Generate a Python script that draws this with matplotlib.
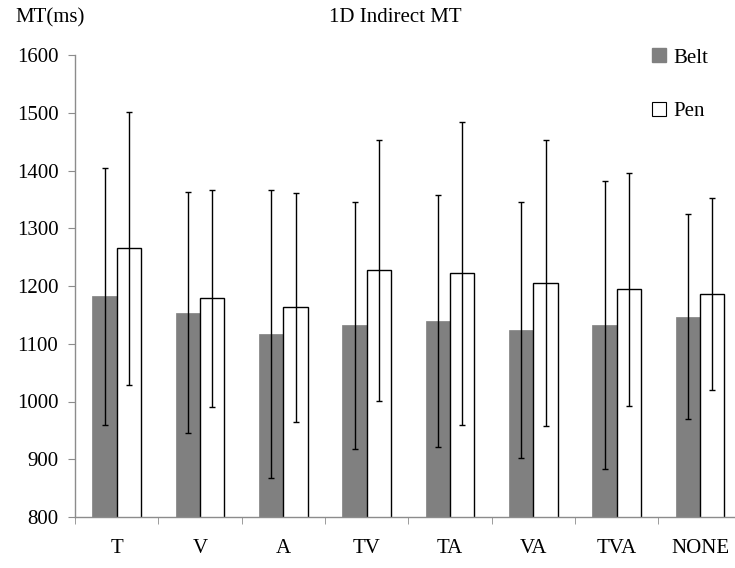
import matplotlib
matplotlib.use("Agg")
import matplotlib.pyplot as plt
import numpy as np
from matplotlib.patches import Patch

categories = ["T", "V", "A", "TV", "TA", "VA", "TVA", "NONE"]
belt_mean = [1182, 1154, 1117, 1132, 1139, 1124, 1132, 1147]
belt_err = [223, 208, 250, 214, 218, 221, 249, 178]
pen_mean = [1265, 1179, 1163, 1227, 1222, 1205, 1194, 1186]
pen_err = [236, 188, 198, 226, 262, 248, 202, 166]
yticks = [800, 900, 1000, 1100, 1200, 1300, 1400, 1500, 1600]

plt.rcParams['font.family'] = ['Liberation Serif', 'DejaVu Serif']

fig = plt.figure(figsize=(7.35, 5.68), dpi=100)
ax = fig.add_axes([75/735, 1-517/568, 1-75/735, (517-55)/568])

x = np.arange(len(categories))
w = 0.292
axis_col = '#8c8c8c'
fs = 15

ax.bar(x - w/2, belt_mean, width=w, color='#808080', edgecolor='#808080', linewidth=0.5, label='Belt', zorder=2)
ax.bar(x + w/2, pen_mean, width=w, color='white', edgecolor='black', linewidth=1.0, label='Pen', zorder=2)
ax.errorbar(x - w/2, belt_mean, yerr=belt_err, fmt='none', ecolor='black', elinewidth=1.0, capsize=2.5, capthick=1.0, zorder=3)
ax.errorbar(x + w/2, pen_mean, yerr=pen_err, fmt='none', ecolor='black', elinewidth=1.0, capsize=2.5, capthick=1.0, zorder=3)

ax.set_ylim(800, 1600)
ax.set_xlim(-0.5, 7.42)
ax.set_yticks(yticks)
ax.set_yticklabels([str(v) for v in yticks], fontsize=fs)
ax.set_xticks(x)
ax.set_xticklabels(categories, fontsize=fs)
ax.set_xticks(np.arange(-0.5, 7.5, 1.0), minor=True)
ax.tick_params(axis='x', which='major', length=0, pad=16)
ax.tick_params(axis='x', which='minor', length=5, color=axis_col, direction='out')
ax.tick_params(axis='y', length=5, color=axis_col, pad=7)

for s in ['top', 'right']:
    ax.spines[s].set_visible(False)
for s in ['left', 'bottom']:
    ax.spines[s].set_color(axis_col)
    ax.spines[s].set_linewidth(1.0)

handles = [Patch(facecolor='#808080', edgecolor='#808080'),
           Patch(facecolor='white', edgecolor='black', linewidth=0.8)]
fig.legend(handles, ['Belt', 'Pen'], loc='upper left', bbox_to_anchor=(644/735, 1-40/568),
           frameon=False, fontsize=fs, labelspacing=1.65, handlelength=0.65, handleheight=0.65,
           handletextpad=0.35, borderaxespad=0)

fig.text(50/735, 1-18/568, 'MT(ms)', ha='center', va='center', fontsize=fs)
fig.text(395/735, 1-18/568, '1D Indirect MT', ha='center', va='center', fontsize=fs)

fig.savefig('out.png', dpi=100)
